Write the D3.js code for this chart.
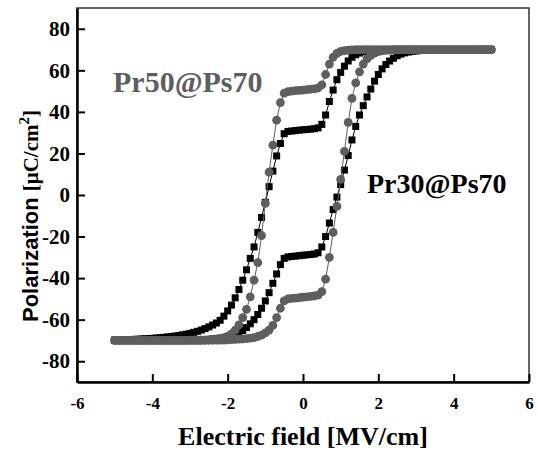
<!DOCTYPE html>
<html>
<head>
<meta charset="utf-8">
<script src="https://cdn.jsdelivr.net/npm/d3@7"></script>
<style>
  html, body { margin: 0; padding: 0; background: #fff; }
  svg { display: block; }
</style>
</head>
<body>
<div id="chart"></div>
<script>
// swept electric field (MV/cm)
const field = [
  -5.0,-4.9,-4.8,-4.7,-4.6,-4.5,-4.4,-4.3,-4.2,-4.1,
  -4.0,-3.9,-3.8,-3.7,-3.6,-3.5,-3.4,-3.3,-3.2,-3.1,
  -3.0,-2.9,-2.8,-2.7,-2.6,-2.5,-2.4,-2.3,-2.2,-2.1,
  -2.0,-1.9,-1.8,-1.7,-1.6,-1.5,-1.4,-1.3,-1.2,-1.1,
  -1.0,-0.9,-0.8,-0.7,-0.6,-0.5,-0.4,-0.3,-0.2,-0.1,
  0.0,0.1,0.2,0.3,0.4,0.5,0.6,0.7,0.8,0.9,
  1.0,1.1,1.2,1.3,1.4,1.5,1.6,1.7,1.8,1.9,
  2.0,2.1,2.2,2.3,2.4,2.5,2.6,2.7,2.8,2.9,
  3.0,3.1,3.2,3.3,3.4,3.5,3.6,3.7,3.8,3.9,
  4.0,4.1,4.2,4.3,4.4,4.5,4.6,4.7,4.8,4.9,
  5.0
];

// Pr30@Ps70 - polarization on the down sweep (upper branch), listed by field
const pr30Down = [
  -69.8,-69.8,-69.7,-69.7,-69.6,-69.5,-69.4,-69.3,-69.2,-69.1,
  -69.0,-68.8,-68.7,-68.5,-68.3,-68.1,-67.9,-67.6,-67.3,-67.0,
  -66.6,-66.1,-65.6,-65.0,-64.3,-63.5,-62.6,-61.6,-60.3,-58.3,
  -55.8,-53.0,-49.5,-45.5,-41.0,-36.0,-30.5,-25.0,-18.0,-10.8,
  -3.5,4.0,11.5,18.8,24.8,29.5,30.6,30.8,31.0,31.2,
  31.4,31.5,31.7,31.9,32.3,34.0,38.5,45.0,50.5,55.5,
  59.0,62.0,64.5,66.3,67.5,68.3,68.9,69.2,69.5,69.7,
  69.8,69.8,69.9,69.9,69.9,69.9,70,70,70,70,
  70,70,70,70,70,70,70,70,70,70,
  70,70,70,70,70,70,70,70,70,70,
  70
];
// Pr30@Ps70 - up sweep (lower branch)
const pr30Up = [
  -69.9,-69.9,-69.9,-69.9,-69.9,-69.9,-69.9,-69.9,-69.9,-69.9,
  -69.9,-69.9,-69.9,-69.9,-69.9,-69.9,-69.9,-69.9,-69.9,-69.9,
  -69.8,-69.8,-69.7,-69.7,-69.6,-69.5,-69.3,-69.1,-68.9,-68.6,
  -68.3,-67.8,-67.2,-66.3,-65.2,-63.8,-62.0,-60.0,-57.5,-54.5,
  -51.0,-47.0,-42.5,-38.0,-33.5,-30.5,-29.8,-29.6,-29.4,-29.2,
  -29.0,-28.8,-28.6,-28.4,-27.8,-25.0,-20.0,-13.5,-7.0,-1.0,
  5.0,12.0,19.0,26.5,33.0,38.5,43.0,47.2,51.0,54.8,
  58.0,60.7,62.8,64.5,65.8,67.0,67.8,68.4,68.8,69.1,
  69.3,69.5,69.6,69.7,69.8,69.8,69.9,69.9,69.9,69.9,
  70,70,70,70,70,70,70,70,70,70,
  70
];

// Pr50@Ps70 - down sweep (upper branch)
const pr50Down = [
  -70,-70,-70,-70,-70,-70,-70,-70,-70,-70,
  -70,-70,-70,-70,-70,-70,-70,-70,-70,-70,
  -69.9,-69.9,-69.9,-69.9,-69.8,-69.7,-69.6,-69.4,-69.1,-68.6,
  -68.0,-66.8,-65.0,-62.5,-59.0,-55.0,-49.0,-41.0,-32.5,-19.5,
  -4.0,11.0,24.0,36.0,44.5,49.0,49.8,50.0,50.2,50.4,
  50.5,50.7,50.9,51.1,51.5,53.0,58.0,63.0,66.3,68.2,
  69.1,69.5,69.7,69.8,69.9,69.9,70,70,70,70,
  70,70,70,70,70,70,70,70,70,70,
  70,70,70,70,70,70,70,70,70,70,
  70,70,70,70,70,70,70,70,70,70,
  70
];
// Pr50@Ps70 - up sweep (lower branch)
const pr50Up = [
  -70,-70,-70,-70,-70,-70,-70,-70,-70,-70,
  -70,-70,-70,-70,-70,-70,-70,-70,-70,-70,
  -70,-70,-70,-69.9,-69.9,-69.9,-69.9,-69.9,-69.8,-69.8,
  -69.7,-69.6,-69.5,-69.4,-69.3,-69.1,-68.9,-68.6,-68.1,-67.4,
  -66.4,-65.0,-62.8,-59.0,-54.5,-51.0,-50.0,-49.8,-49.6,-49.4,
  -49.2,-49.0,-48.8,-48.6,-48.2,-46.5,-40.5,-30.0,-18.0,-5.5,
  7.5,21.0,35.0,46.5,54.0,59.3,63.0,65.5,67.2,68.3,
  69.0,69.4,69.6,69.7,69.8,69.9,69.9,70,70,70,
  70,70,70,70,70,70,70,70,70,70,
  70,70,70,70,70,70,70,70,70,70,
  70
];

const xTicks = [-6, -4, -2, 0, 2, 4, 6];
const yTicks = [-80, -60, -40, -20, 0, 20, 40, 60, 80];

const width = 538, height = 453;
const margin = { top: 8, right: 9, bottom: 71, left: 77 };
const innerW = width - margin.left - margin.right;
const innerH = height - margin.top - margin.bottom;
const serif = '"Liberation Serif", "Times New Roman", serif';

const svg = d3.select('#chart')
  .append('svg')
  .attr('width', width)
  .attr('height', height);

const g = svg.append('g')
  .attr('transform', `translate(${margin.left},${margin.top})`);

const x = d3.scaleLinear().domain([-6, 6]).range([0, innerW]);
const y = d3.scaleLinear().domain([-90, 90]).range([innerH, 0]);

// frame (top/right lighter)
g.append('rect')
  .attr('width', innerW)
  .attr('height', innerH)
  .attr('fill', 'none')
  .attr('stroke', '#333')
  .attr('stroke-width', 1.5);

// axes, ticks pointing inward, plain hyphen minus
const xAxis = g.append('g')
  .attr('transform', `translate(0,${innerH})`)
  .call(d3.axisBottom(x).tickValues(xTicks).tickSizeInner(-8).tickSizeOuter(0).tickPadding(15).tickFormat(d => String(d)));
const yAxis = g.append('g')
  .call(d3.axisLeft(y).tickValues(yTicks).tickSizeInner(-8).tickSizeOuter(0).tickPadding(16).tickFormat(d => String(d)));

[xAxis, yAxis].forEach(a => {
  a.attr('font-family', null).attr('font-size', null);
  a.select('.domain').attr('stroke', '#000').attr('stroke-width', 2.5);
  a.selectAll('.tick line').attr('stroke', '#000').attr('stroke-width', 2);
  a.selectAll('.tick text')
    .attr('fill', '#000')
    .style('font-family', serif)
    .style('font-weight', 'bold');
});
xAxis.selectAll('.tick text').style('font-size', '17px').attr('dy', '0.71em');
yAxis.selectAll('.tick text').style('font-size', '21px').attr('x', -7);

// build closed loops: down sweep from +5 to -5, then up sweep back
function loop(down, up) {
  const upper = field.map((f, i) => ({ e: f, p: down[i] })).reverse();
  const lower = field.map((f, i) => ({ e: f, p: up[i] }));
  return upper.concat(lower);
}

const series = [
  { name: 'Pr30@Ps70', color: '#000', shape: 'square', points: loop(pr30Down, pr30Up) },
  { name: 'Pr50@Ps70', color: '#5e5e5e', shape: 'circle', points: loop(pr50Down, pr50Up) }
];

const line = d3.line()
  .x(d => x(d.e))
  .y(d => y(d.p));

series.forEach(s => {
  const sg = g.append('g').attr('class', 'series');
  sg.append('path')
    .datum(s.points)
    .attr('d', line)
    .attr('fill', 'none')
    .attr('stroke', s.color)
    .attr('stroke-width', 1);

  if (s.shape === 'square') {
    sg.selectAll('rect')
      .data(s.points)
      .enter()
      .append('rect')
      .attr('x', d => x(d.e) - 3.5)
      .attr('y', d => y(d.p) - 3.5)
      .attr('width', 7)
      .attr('height', 7)
      .attr('fill', s.color);
  } else {
    sg.selectAll('circle')
      .data(s.points)
      .enter()
      .append('circle')
      .attr('cx', d => x(d.e))
      .attr('cy', d => y(d.p))
      .attr('r', 4.4)
      .attr('fill', s.color);
  }
});

// series labels
g.append('text')
  .attr('x', 36)
  .attr('y', 84)
  .attr('fill', '#5e5e5e')
  .style('font-family', serif)
  .style('font-weight', 'bold')
  .style('font-size', '30px')
  .text('Pr50@Ps70');

g.append('text')
  .attr('x', 290)
  .attr('y', 185)
  .attr('fill', '#000')
  .style('font-family', serif)
  .style('font-weight', 'bold')
  .style('font-size', '28px')
  .text('Pr30@Ps70');

// axis titles
svg.append('text')
  .attr('x', margin.left + innerW / 2)
  .attr('y', 445)
  .attr('text-anchor', 'middle')
  .attr('fill', '#000')
  .style('font-family', serif)
  .style('font-weight', 'bold')
  .style('font-size', '26px')
  .text('Electric field [MV/cm]');

const yTitle = svg.append('text')
  .attr('transform', 'translate(38,216) rotate(-90)')
  .attr('text-anchor', 'middle')
  .attr('fill', '#000')
  .style('font-weight', 'bold');
yTitle.append('tspan')
  .style('font-family', '"Liberation Sans", Arial, sans-serif')
  .style('font-size', '22px')
  .text('Polarization ');
yTitle.append('tspan')
  .style('font-family', serif)
  .style('font-size', '21px')
  .text('[\u03bcC/cm');
yTitle.append('tspan')
  .style('font-family', serif)
  .style('font-size', '15px')
  .attr('dy', -9)
  .text('2');
yTitle.append('tspan')
  .style('font-family', serif)
  .style('font-size', '21px')
  .attr('dy', 9)
  .text(']');
</script>
</body>
</html>
